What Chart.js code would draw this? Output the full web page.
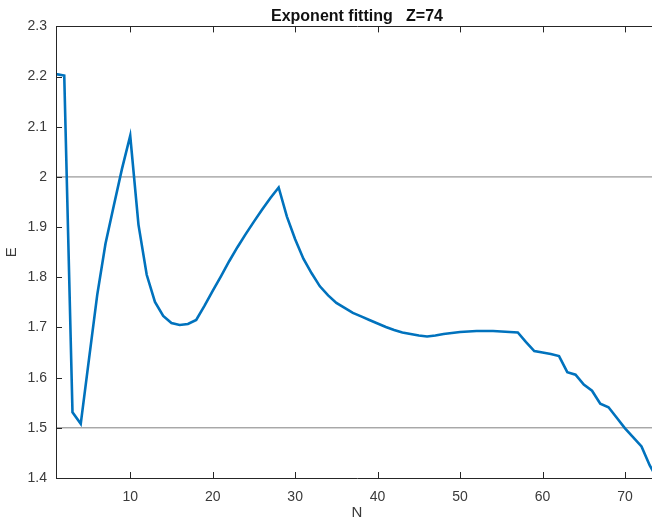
<!DOCTYPE html>
<html>
<head>
<meta charset="utf-8">
<script src="https://cdn.jsdelivr.net/npm/chart.js@4.4.0/dist/chart.umd.min.js"></script>
<style>
  html, body { margin: 0; padding: 0; background: #fff; overflow: hidden; }
  #wrap { width: 660px; height: 522px; }
</style>
</head>
<body>
<div id="wrap"><canvas id="chart"></canvas></div>
<script>
// data
const nValues = [1, 2, 3, 4, 5, 6, 7, 8, 9, 10, 11, 12, 13, 14, 15, 16, 17, 18, 19, 20,
  21, 22, 23, 24, 25, 26, 27, 28, 29, 30, 31, 32, 33, 34, 35, 36, 37, 38, 39, 40,
  41, 42, 43, 44, 45, 46, 47, 48, 49, 50, 51, 52, 53, 54, 55, 56, 57, 58, 59, 60,
  61, 62, 63, 64, 65, 66, 67, 68, 69, 70, 71, 72, 73, 74];
const eValues = [2.205, 2.202, 1.531, 1.508, 1.637, 1.765, 1.867, 1.942, 2.016, 2.082,
  1.905, 1.805, 1.751, 1.723, 1.709, 1.705, 1.707, 1.715, 1.743, 1.773,
  1.802, 1.832, 1.860, 1.886, 1.911, 1.935, 1.958, 1.979, 1.921, 1.876,
  1.837, 1.808, 1.782, 1.764, 1.749, 1.739, 1.729, 1.722, 1.715, 1.708,
  1.701, 1.695, 1.690, 1.687, 1.684, 1.682, 1.684, 1.687, 1.689, 1.691,
  1.692, 1.693, 1.693, 1.693, 1.692, 1.691, 1.690, 1.671, 1.653, 1.650,
  1.647, 1.643, 1.611, 1.606, 1.586, 1.574, 1.548, 1.541, 1.520, 1.499,
  1.481, 1.463, 1.425, 1.396];
const refLevels = [2, 1.5];
const xTicks = [10, 20, 30, 40, 50, 60, 70];
const yTicks = [1.4, 1.5, 1.6, 1.7, 1.8, 1.9, 2, 2.1, 2.2, 2.3];

const axisColor = "#262626";
const labelColor = "#3a3a3a";
const font = "'Liberation Sans', Arial, sans-serif";

// MATLAB-style box with inward ticks
const boxPlugin = {
  id: "box",
  afterDatasetsDraw(chart) {
    const { ctx, chartArea: a, scales } = chart;
    ctx.save();
    ctx.strokeStyle = axisColor;
    ctx.lineWidth = 1;
    ctx.beginPath();
    ctx.rect(Math.round(a.left) + 0.5, Math.round(a.top) + 0.5,
      Math.round(a.right - a.left), Math.round(a.bottom - a.top));
    const len = 6;
    scales.x.ticks.forEach(t => {
      const px = Math.round(scales.x.getPixelForValue(t.value)) + 0.5;
      ctx.moveTo(px, a.bottom); ctx.lineTo(px, a.bottom - len);
      ctx.moveTo(px, a.top); ctx.lineTo(px, a.top + len);
    });
    scales.y.ticks.forEach(t => {
      const py = Math.round(scales.y.getPixelForValue(t.value)) + 0.5;
      ctx.moveTo(a.left, py); ctx.lineTo(a.left + len, py);
      ctx.moveTo(a.right, py); ctx.lineTo(a.right - len, py);
    });
    ctx.stroke();
    ctx.restore();
  }
};

const refSets = refLevels.map(v => ({
  data: [{ x: nValues[0], y: v }, { x: nValues[nValues.length - 1], y: v }],
  borderColor: "#808080",
  borderWidth: 1,
  pointRadius: 0,
  fill: false
}));

new Chart(document.getElementById("chart"), {
  type: "line",
  data: {
    datasets: [
      {
        data: nValues.map((n, i) => ({ x: n, y: eValues[i] })),
        borderColor: "#0072BD",
        borderWidth: 2.6,
        pointRadius: 0,
        tension: 0,
        fill: false
      },
      ...refSets
    ]
  },
  options: {
    responsive: true,
    maintainAspectRatio: false,
    animation: false,
    layout: { padding: { left: 0, right: 2, top: 0, bottom: 0 } },
    plugins: {
      legend: { display: false },
      tooltip: { enabled: false },
      title: {
        display: true,
        text: "Exponent fitting   Z=74",
        fullSize: false,
        color: "#111",
        font: { family: font, size: 16, weight: "bold" },
        padding: { top: 7, bottom: 0.2 }
      }
    },
    scales: {
      x: {
        type: "linear",
        min: 1,
        max: 74,
        afterBuildTicks: s => { s.ticks = xTicks.map(v => ({ value: v })); },
        afterFit: s => { s.height = 44; },
        grid: { display: false, drawTicks: false },
        border: { display: false },
        ticks: { color: labelColor, font: { family: font, size: 14 }, padding: 11, maxRotation: 0 },
        title: { display: true, text: "N", color: labelColor, font: { family: font, size: 15 }, padding: { top: 0, bottom: 0 } }
      },
      y: {
        type: "linear",
        min: 1.4,
        max: 2.3,
        afterBuildTicks: s => { s.ticks = yTicks.map(v => ({ value: v })); },
        afterFit: s => { s.width = 56; },
        grid: { display: false, drawTicks: false },
        border: { display: false },
        ticks: {
          color: labelColor,
          font: { family: font, size: 14 },
          padding: 9,
          callback: v => String(+v.toFixed(1))
        },
        title: { display: true, text: "E", color: labelColor, font: { family: font, size: 15 }, padding: { top: 3, bottom: 0 } }
      }
    }
  },
  plugins: [boxPlugin]
});
</script>
</body>
</html>
